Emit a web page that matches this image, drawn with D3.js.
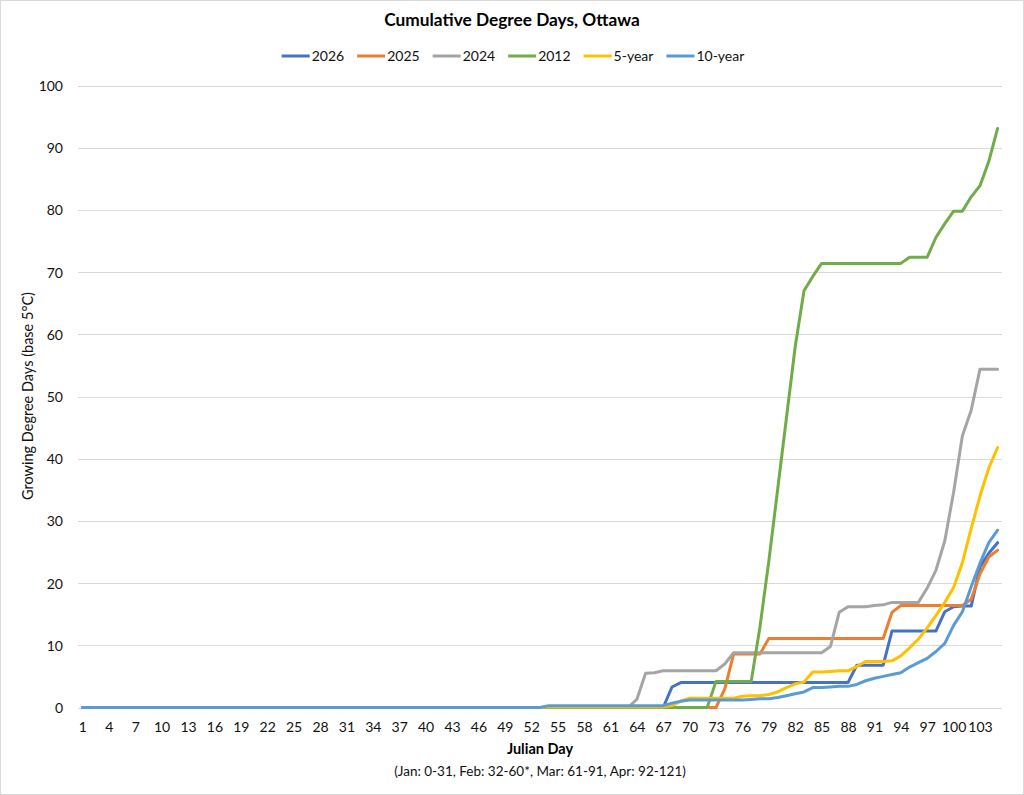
<!DOCTYPE html>
<html>
<head>
<meta charset="utf-8">
<script src="https://cdn.jsdelivr.net/npm/d3@7/dist/d3.min.js"></script>
<style>
  html, body { margin: 0; padding: 0; background: #fff; }
  svg { display: block; font-family: Lato, "Open Sans", sans-serif; }
</style>
</head>
<body>
<svg id="chart" width="1024" height="795"></svg>
<script>
// ---- data ----
const days = d3.range(1, 106); // Julian days 1..105
const zeros = n => new Array(n).fill(0);

const seriesNames = ["2026", "2025", "2024", "2012", "5-year", "10-year"];
const seriesColors = ["#4472C4", "#ED7D31", "#A5A5A5", "#70AD47", "#FFC000", "#5B9BD5"];

// values for days 1..105
const s2026 = zeros(67).concat([
  3.3, 4.0, 4.0, 4.0, 4.0, 4.0, 4.0, 4.0, 4.0, 4.0,         // 68-77
  4.0, 4.0, 4.0, 4.0, 4.0, 4.0, 4.0, 4.0, 4.0, 4.0, 4.0,    // 78-88
  6.8, 6.8, 6.8, 6.8, 12.3, 12.3, 12.3, 12.3, 12.3, 12.3,   // 89-98
  15.4, 16.2, 16.3, 16.3, 22.6, 24.8, 26.5                  // 99-105
]);
const s2025 = zeros(73).concat([
  3.0, 8.6, 8.6, 8.6, 8.6,                                  // 74-78
  11.1, 11.1, 11.1, 11.1, 11.1, 11.1, 11.1, 11.1, 11.1, 11.1, 11.1, 11.1, 11.1, 11.1, // 79-92
  15.3, 16.4, 16.4, 16.4, 16.4, 16.4, 16.4, 16.4, 16.4,     // 93-101
  17.4, 21.5, 24.2, 25.3                                    // 102-105
]);
const s2024 = zeros(63).concat([
  1.3, 5.5, 5.6, 5.9, 5.9, 5.9, 5.9, 5.9, 5.9, 5.9,         // 64-73
  7.0, 8.8, 8.8, 8.8, 8.8, 8.8, 8.8, 8.8, 8.8, 8.8, 8.8, 8.8, // 74-85
  9.8, 15.3, 16.2, 16.2, 16.2, 16.4, 16.5, 16.9, 16.9, 16.9, 16.9, // 86-96
  19.2, 22.1, 26.8, 34.6, 43.7, 47.8, 54.4, 54.4, 54.4      // 97-105
]);
const s2012 = zeros(72).concat([
  4.2, 4.2, 4.2, 4.2, 4.2,                                  // 73-77
  13.0, 23.5, 35.0, 46.5, 58.0, 67.0, 69.3,                 // 78-84
  71.4, 71.4, 71.4, 71.4, 71.4, 71.4, 71.4, 71.4, 71.4, 71.4, // 85-94
  72.4, 72.4, 72.4, 75.6, 77.8, 79.8, 79.8, 82.1, 83.9, 87.8, 93.1 // 95-105
]);
const s5yr = zeros(53).concat([
  0.1, 0.1, 0.1, 0.1, 0.1, 0.1, 0.1, 0.1, 0.1, 0.1, 0.1, 0.1, 0.1, 0.1, // 54-67
  0.3, 1.0, 1.5, 1.5, 1.5, 1.5, 1.5, 1.5,                   // 68-75
  1.8, 1.9, 1.9, 2.1, 2.5, 3.2, 3.8, 4.1, 5.7, 5.7,         // 76-85
  5.8, 5.9, 5.9, 6.6, 7.4, 7.4, 7.4, 7.5, 8.3,              // 86-94
  9.6, 11.0, 12.8, 14.8, 16.9, 19.3, 23.3, 28.8, 34.0, 38.5, 41.8 // 95-105
]);
const s10yr = zeros(53).concat([
  0.3, 0.3, 0.3, 0.3, 0.3, 0.3, 0.3, 0.3, 0.3, 0.3, 0.3, 0.3, 0.3, 0.3, // 54-67
  0.7, 1.0, 1.2, 1.2, 1.2, 1.2, 1.2, 1.2, 1.2,              // 68-76
  1.3, 1.4, 1.4, 1.6, 1.9, 2.2, 2.5, 3.2, 3.2,              // 77-85
  3.3, 3.4, 3.4, 3.7, 4.3, 4.7, 5.0, 5.3, 5.6,              // 86-94
  6.5, 7.2, 7.9, 9.0, 10.3, 13.2, 15.4, 19.4, 23.2, 26.5, 28.5 // 95-105
]);
const seriesValues = [s2026, s2025, s2024, s2012, s5yr, s10yr];

const yTicks = [0, 10, 20, 30, 40, 50, 60, 70, 80, 90, 100];
const xTickLabels = days.filter(d => (d - 1) % 3 === 0);

const titleText = "Cumulative Degree Days, Ottawa";
const xTitle = "Julian Day";
const xSubtitle = "(Jan: 0-31, Feb: 32-60*, Mar: 61-91, Apr: 92-121)";
const yTitle = "Growing Degree Days (base 5°C)";

// ---- layout ----
const W = 1024, H = 795;
const plot = { left: 78, right: 1002, top: 85.5, bottom: 707.5 };
const svg = d3.select("#chart");

svg.append("rect").attr("x", 0.5).attr("y", 0.5).attr("width", W - 1).attr("height", H - 1)
  .attr("fill", "#fff").attr("stroke", "#d9d9d9");

const x = d3.scalePoint().domain(days).range([plot.left, plot.right]).padding(0.5);
const y = d3.scaleLinear().domain([0, 100]).range([plot.bottom, plot.top]);

// gridlines
svg.append("g").selectAll("line").data(yTicks).join("line")
  .attr("x1", plot.left).attr("x2", plot.right)
  .attr("y1", d => Math.round(y(d)) + 0.5).attr("y2", d => Math.round(y(d)) + 0.5)
  .attr("stroke", "#d9d9d9").attr("stroke-width", 1);

// y axis labels
const yAxis = d3.axisLeft(y).tickValues(yTicks).tickSize(0).tickPadding(0).tickFormat(d3.format("d"));
const gy = svg.append("g").attr("transform", `translate(63,0)`).call(yAxis);
gy.select(".domain").remove();
gy.selectAll("text").attr("font-size", "14px").attr("fill", "#111")
  .attr("font-family", "Lato, sans-serif").attr("dy", "0.35em");

// x axis labels
const xAxis = d3.axisBottom(x).tickValues(xTickLabels).tickSize(0).tickPadding(0);
const gx = svg.append("g").attr("transform", `translate(0,${plot.bottom})`).call(xAxis);
gx.select(".domain").remove();
gx.selectAll("text").attr("font-size", "14px").attr("fill", "#111")
  .attr("font-family", "Lato, sans-serif").attr("y", 19.5).attr("dy", "0.35em");

// lines
const line = d3.line().x((d, i) => x(days[i])).y(d => y(d));
svg.append("g").selectAll("path").data(seriesValues).join("path")
  .attr("d", d => line(d))
  .attr("fill", "none")
  .attr("stroke", (d, i) => seriesColors[i])
  .attr("stroke-width", 3)
  .attr("stroke-linejoin", "round")
  .attr("stroke-linecap", "round");

// title
svg.append("text").attr("x", 512).attr("y", 20).attr("dy", "0.35em")
  .attr("text-anchor", "middle").attr("font-weight", "bold").attr("font-size", "17.3px")
  .attr("fill", "#000").text(titleText);

// legend
const leg = svg.append("g");
const items = leg.selectAll("g").data(seriesNames).join("g");
items.append("line").attr("x1", 0).attr("x2", 28).attr("y1", 0).attr("y2", 0)
  .attr("stroke", (d, i) => seriesColors[i]).attr("stroke-width", 3);
items.append("text").attr("x", 30).attr("dy", "0.35em").attr("font-size", "14px")
  .attr("fill", "#111").text(d => d);
const widths = [];
items.each(function () { widths.push(30 + this.querySelector("text").getComputedTextLength()); });
const gap = 13;
const total = d3.sum(widths) + gap * (widths.length - 1);
let cx = 513 - total / 2;
items.attr("transform", (d, i) => {
  const t = `translate(${cx},56)`;
  cx += widths[i] + gap;
  return t;
});

// axis titles
svg.append("text").attr("x", (plot.left + plot.right) / 2).attr("y", 749).attr("dy", "0.35em")
  .attr("text-anchor", "middle").attr("font-weight", "bold").attr("font-size", "14.5px")
  .attr("fill", "#000").text(xTitle);
svg.append("text").attr("x", (plot.left + plot.right) / 2).attr("y", 771).attr("dy", "0.35em")
  .attr("text-anchor", "middle").attr("font-size", "13.5px")
  .attr("fill", "#111").text(xSubtitle);
svg.append("text").attr("transform", "translate(28,396) rotate(-90)").attr("dy", "0.35em")
  .attr("text-anchor", "middle").attr("font-size", "14.5px")
  .attr("fill", "#111").text(yTitle);
</script>
</body>
</html>
